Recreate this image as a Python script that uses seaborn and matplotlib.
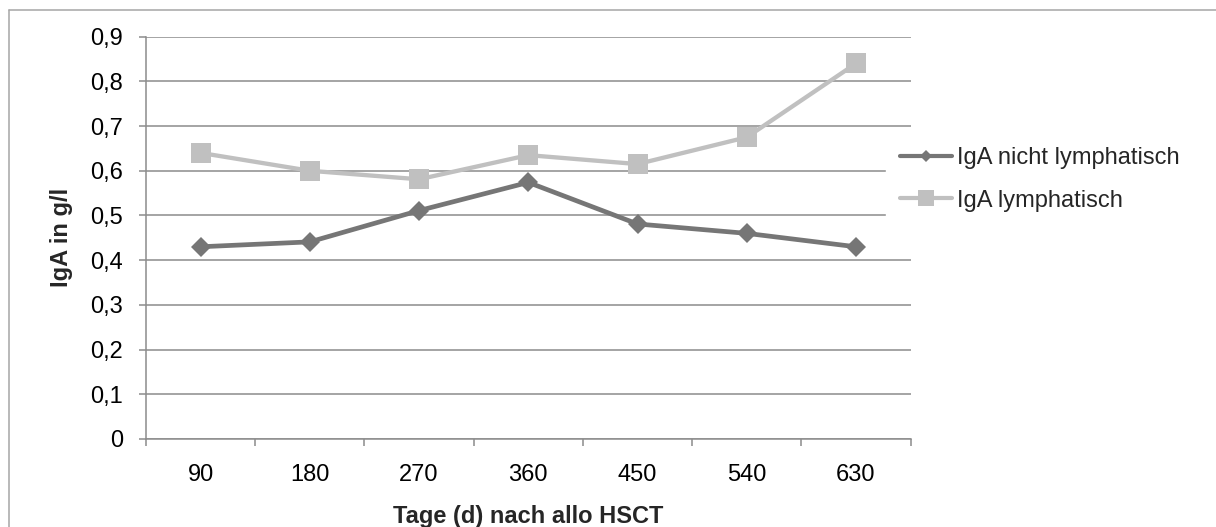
import matplotlib
matplotlib.use("Agg")
import matplotlib.pyplot as plt
import pandas as pd
import seaborn as sns
from matplotlib.lines import Line2D
from matplotlib.ticker import FixedLocator, FuncFormatter

days = ["90", "180", "270", "360", "450", "540", "630"]
iga_nicht_lymph = [0.43, 0.441, 0.511, 0.574, 0.481, 0.46, 0.43]
iga_lymph = [0.64, 0.60, 0.581, 0.635, 0.615, 0.675, 0.84]
series_names = ["IgA nicht lymphatisch", "IgA lymphatisch"]
y_ticks = [0.0, 0.1, 0.2, 0.3, 0.4, 0.5, 0.6, 0.7, 0.8, 0.9]

DARK, LIGHT, GRID = "#767676", "#c0c0c0", "#8c8c8c"

df = pd.DataFrame({
    "tag": days * 2,
    "wert": iga_nicht_lymph + iga_lymph,
    "serie": [series_names[0]] * len(days) + [series_names[1]] * len(days),
})

sns.set_theme(style="white")
plt.rcParams["font.family"] = ["Liberation Sans", "DejaVu Sans"]
FS = 17

fig = plt.figure(figsize=(12.16, 5.27), dpi=100)
ax = fig.add_axes([0.1201, 0.1670, 0.6287, 0.7634])

styles = {series_names[0]: dict(color=DARK, marker="D", ms=9.7, lw=3.4),
          series_names[1]: dict(color=LIGHT, marker="s", ms=14.4, lw=3.1)}
for name in series_names:
    st = styles[name]
    sns.lineplot(data=df[df.serie == name], x="tag", y="wert", ax=ax, color=st["color"],
                 marker=st["marker"], markersize=st["ms"], linewidth=st["lw"],
                 markeredgewidth=0, legend=False, zorder=3)

ax.set_xlim(-0.5, len(days) - 0.5)
ax.set_ylim(0, 0.9)
ax.yaxis.set_major_locator(FixedLocator(y_ticks))
ax.yaxis.set_major_formatter(FuncFormatter(lambda v, _: "0" if v == 0 else f"{v:.1f}".replace(".", ",")))
ax.xaxis.set_minor_locator(FixedLocator([i - 0.5 for i in range(len(days) + 1)]))
ax.tick_params(axis="x", which="major", length=0, pad=18, labelsize=FS, colors="black")
ax.tick_params(axis="x", which="minor", length=5, width=1.1, color=GRID, direction="out", bottom=True)
ax.tick_params(axis="y", which="major", length=5, width=1.1, color=GRID, direction="out",
               left=True, pad=11.5, labelsize=FS, labelcolor="black")
ax.yaxis.grid(True, color=GRID, linewidth=1.1)
ax.set_axisbelow(True)
for side in ["top", "right"]:
    ax.spines[side].set_visible(False)
for side in ["left", "bottom"]:
    ax.spines[side].set_color(GRID)
    ax.spines[side].set_linewidth(1.1)

ax.set_xlabel("Tage (d) nach allo HSCT", fontsize=FS, fontweight="bold")
ax.set_ylabel("IgA in g/l", fontsize=FS, fontweight="bold")
ax.xaxis.set_label_coords(0.5, -0.164)
ax.yaxis.set_label_coords(-0.111, 0.5)
ax.yaxis.label.set_va("center")

handles = [Line2D([], [], color=DARK, marker="D", ms=5.9, lw=3.0, markeredgewidth=0),
           Line2D([], [], color=LIGHT, marker="s", ms=12, lw=3.0, markeredgewidth=0)]
fig.legend(handles, series_names, loc="center left", bbox_to_anchor=(886 / 1216, 1 - 179.5 / 527),
           fontsize=FS, frameon=True, facecolor="white", edgecolor="white", framealpha=1,
           fancybox=False, borderpad=0.6, borderaxespad=0, handlelength=2.2,
           handletextpad=0.22, labelspacing=0.85)

# chart area border (left and top edges visible)
fig.add_artist(Line2D([8.5 / 1216, 8.5 / 1216], [0, 1 - 10 / 527], color="#a6a6a6", lw=1.1,
                      transform=fig.transFigure))
fig.add_artist(Line2D([8.5 / 1216, 1], [1 - 10 / 527, 1 - 10 / 527], color="#a6a6a6", lw=1.1,
                      transform=fig.transFigure))

fig.savefig("out.png", dpi=100)
